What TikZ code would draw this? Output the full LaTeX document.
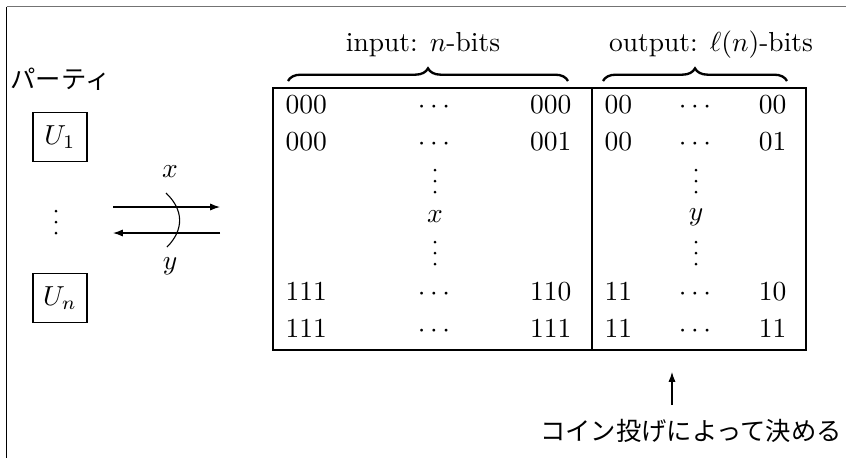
\documentclass[tikz,border=0pt]{standalone}
\usepackage{fontspec}
\newfontfamily\jpfont{Noto Sans CJK JP}
\usetikzlibrary{decorations.pathreplacing,arrows.meta}
% a vertical column of three dots centred at (#1,#2)
\newcommand\dotcolumn[2]{\foreach \k in {-11,0,11} \fill (#1,#2+\k) circle[radius=1.5];}
\begin{document}
\begin{tikzpicture}[x=0.3636pt,y=-0.3636pt,
  txt/.style={inner sep=0pt},
  jp/.style={inner sep=0pt, font=\jpfont\fontsize{9.2}{11}\selectfont},
  party/.style={draw, line width=0.4pt, inner sep=0pt, minimum width=19.6pt, minimum height=17.6pt},
  arr/.style={line width=0.4pt, -{Latex[length=3.6pt,width=2.6pt]}},
  brc/.style={decorate, decoration={brace, amplitude=4.6pt}, line width=0.85pt},
  rule/.style={line width=0.4pt}]
\useasboundingbox (0,0) rectangle (846,458);

% outer frame edges
\draw[line width=0.7pt, black!55] (6.5,6.5) -- (846,6.5);
\draw[line width=0.7pt] (6.5,6.5) -- (6.5,458);

% parties
\node[jp] (plabel) at (60.5,79) {パーティ};
\node[party] (u1) at (60,137) {$U_1$};
\dotcolumn{56}{222}
\node[party] (un) at (60,298) {$U_n$};

% query / answer channel
\coordinate (qa) at (113,207);
\coordinate (qb) at (220,207);
\coordinate (ra) at (220,233);
\coordinate (rb) at (113,233);
\draw[arr] (qa) -- (qb);
\draw[arr] (ra) -- (rb);
\coordinate (ca) at (166,193);
\coordinate (cb) at (167,247);
\draw[rule] (ca) .. controls (184,210) and (184,230) .. (cb);
\node[txt] (xq) at (170,172) {$x$};
\node[txt] (yr) at (170,266) {$y$};

% random function table
\coordinate (tnw) at (273,88);
\coordinate (tse) at (806,350);
\coordinate (dtop) at (592,88);
\coordinate (dbot) at (592,350);
\draw[rule] (tnw) rectangle (tse);
\draw[rule] (dtop) -- (dbot);

% column headers
\coordinate (ib1) at (288,81);
\coordinate (ib2) at (568,81);
\coordinate (ob1) at (603,81);
\coordinate (ob2) at (787,81);
\draw[brc] (ib1) -- (ib2);
\draw[brc] (ob1) -- (ob2);
\node[txt, anchor=base] (inlabel) at (423,51) {input: $n$-bits};
\node[txt, anchor=base] (outlabel) at (711,51) {output: $\ell(n)$-bits};

% rows
\foreach \yy/\a/\b/\c/\d [count=\i] in {113/000/000/00/00, 150/000/001/00/01, 300/111/110/11/10, 337/111/111/11/11}{
  \node[txt, anchor=base west] (in\i) at (285,\yy) {\a};
  \node[txt, anchor=base] (id\i) at (434,\yy) {$\cdots$};
  \node[txt, anchor=base east] (ie\i) at (572,\yy) {\b};
  \node[txt, anchor=base west] (on\i) at (604,\yy) {\c};
  \node[txt, anchor=base] (od\i) at (695,\yy) {$\cdots$};
  \node[txt, anchor=base east] (oe\i) at (787,\yy) {\d};
}
\dotcolumn{435}{181}
\node[txt] (xv) at (435,217) {$x$};
\dotcolumn{435}{253}
\dotcolumn{696}{181}
\node[txt] (yv) at (696,217) {$y$};
\dotcolumn{696}{253}

% coin flip note
\node[jp] (coin) at (691,431) {コイン投げによって決める};
\coordinate (cbot) at (672,405);
\coordinate (ctop) at (672,372);
\draw[arr] (cbot) -- (ctop);
\end{tikzpicture}
\end{document}
